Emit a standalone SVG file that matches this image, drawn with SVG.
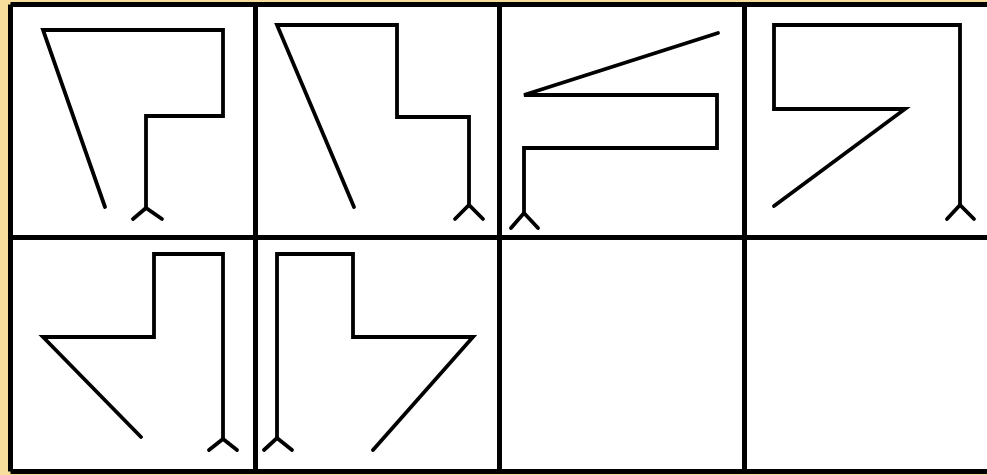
<svg xmlns="http://www.w3.org/2000/svg" width="987" height="475" viewBox="0 0 987 475">
<style>
.grid{fill:none;stroke:#000;stroke-width:5}
.fig{fill:none;stroke:#000;stroke-width:3.8;stroke-linecap:round;stroke-linejoin:miter}
</style>
<rect x="0" y="0" width="987" height="475" fill="#F7DE9C"/>
<rect x="10.5" y="4.5" width="990" height="467" fill="#fff"/>
<g id="grid">
<path class="grid" d="M10.5,4.5 H1000 M10.5,237.5 H1000 M10.5,471.5 H1000 M10.5,4.5 V471.5 M255.5,4.5 V471.5 M499.5,4.5 V471.5 M744.5,4.5 V471.5"/>
</g>
<g id="cell1">
<path class="fig" d="M105,207 L43,30 H223 V116 H146 V208"/>
<path class="fig" d="M133,219 L146,208 L162,219"/>
</g>
<g id="cell2">
<path class="fig" d="M354,207 L277,25 H397 V117 H469 V205"/>
<path class="fig" d="M455,219 L469,205 L483,219"/>
</g>
<g id="cell3">
<path class="fig" d="M718,33 L524,95 H717 V148 H524 V213"/>
<path class="fig" d="M511,228 L524,213 L538,228"/>
</g>
<g id="cell4">
<path class="fig" d="M774,206 L905,109 H774 V25 H960 V205"/>
<path class="fig" d="M947,219 L960,205 L974,219"/>
</g>
<g id="cell5">
<path class="fig" d="M141,437 L43,337 H154 V254 H223 V439"/>
<path class="fig" d="M209,450 L223,439 L237,450"/>
</g>
<g id="cell6">
<path class="fig" d="M373,450 L473,337 H353 V254 H277 V438"/>
<path class="fig" d="M264,450 L277,438 L292,450"/>
</g>
<g id="cell7"></g>
<g id="cell8"></g>
</svg>
